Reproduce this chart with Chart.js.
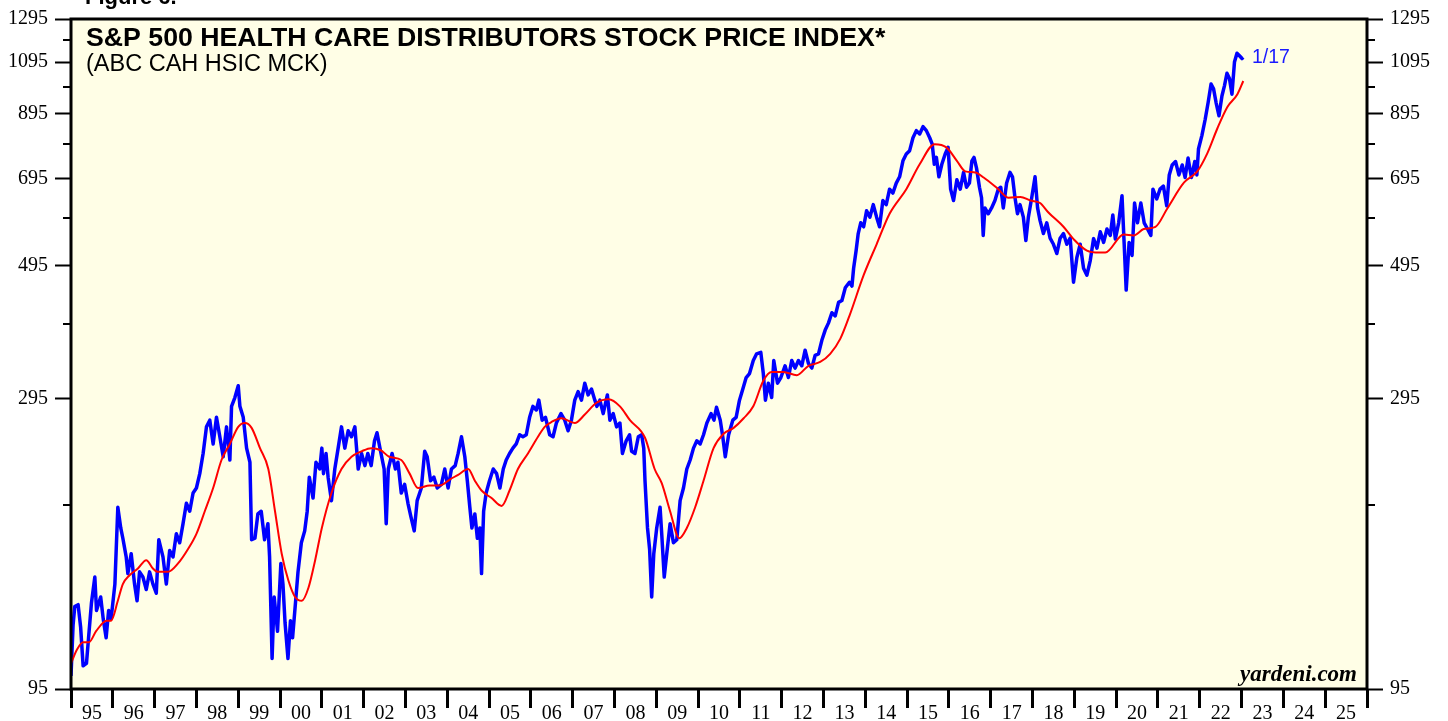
<!DOCTYPE html>
<html><head><meta charset="utf-8">
<script src="https://cdn.jsdelivr.net/npm/chart.js@4/dist/chart.umd.min.js"></script>
<style>html,body{margin:0;padding:0;background:#fff;overflow:hidden}canvas{display:block}</style>
</head><body>
<canvas id="c" width="1448" height="721"></canvas>
<script>
// ---- data ----
const yearStart = 1995, yearEnd = 2026;
const yTickValues = [95,195,295,395,495,595,695,795,895,995,1095,1195,1295];
const yLabelValues = [95,295,495,695,895,1095,1295];

const blueYears = [1995.00,1995.05,1995.09,1995.17,1995.23,1995.29,1995.37,1995.42,1995.49,1995.57,1995.61,1995.71,1995.77,1995.84,1995.90,1995.96,
1996.05,1996.12,1996.19,1996.24,1996.32,1996.36,1996.44,1996.52,1996.58,1996.64,1996.72,1996.80,1996.88,1996.96,
1997.04,1997.10,1997.20,1997.28,1997.36,1997.44,1997.52,1997.60,1997.68,1997.76,1997.84,1997.92,
1998.00,1998.08,1998.16,1998.24,1998.32,1998.40,1998.48,1998.56,1998.64,1998.72,1998.80,1998.84,1998.92,
1999.00,1999.04,1999.12,1999.20,1999.28,1999.32,1999.40,1999.47,1999.55,1999.63,1999.71,1999.75,1999.81,1999.86,1999.94,
2000.02,2000.07,2000.12,2000.19,2000.25,2000.30,2000.37,2000.43,2000.51,2000.59,2000.65,2000.70,2000.79,2000.86,2000.95,
2001.00,2001.04,2001.10,2001.15,2001.23,2001.31,2001.39,2001.47,2001.55,2001.63,2001.71,2001.79,2001.87,2001.95,
2002.03,2002.10,2002.18,2002.26,2002.32,2002.39,2002.49,2002.54,2002.59,2002.68,2002.76,2002.82,2002.90,2002.98,
2003.06,2003.13,2003.21,2003.28,2003.38,2003.46,2003.52,2003.60,2003.68,2003.76,2003.86,2003.94,
2004.02,2004.10,2004.19,2004.26,2004.34,2004.42,2004.48,2004.54,2004.59,2004.66,2004.72,2004.78,2004.82,2004.87,2004.93,
2005.01,2005.10,2005.18,2005.26,2005.34,2005.41,2005.49,2005.57,2005.65,2005.73,2005.81,2005.89,2005.97,
2006.05,2006.13,2006.19,2006.27,2006.35,2006.45,2006.53,2006.61,2006.72,2006.81,2006.89,2006.97,
2007.05,2007.13,2007.21,2007.29,2007.37,2007.45,2007.53,2007.58,2007.65,2007.73,2007.83,2007.89,2007.97,
2008.05,2008.13,2008.19,2008.28,2008.36,2008.41,2008.49,2008.57,2008.65,2008.70,2008.73,2008.79,2008.84,2008.89,2008.94,
2009.01,2009.09,2009.13,2009.19,2009.25,2009.33,2009.41,2009.49,2009.57,2009.65,2009.73,2009.81,2009.89,2009.97,
2010.05,2010.13,2010.21,2010.31,2010.38,2010.44,2010.53,2010.59,2010.65,2010.73,2010.83,2010.91,2010.99,
2011.07,2011.15,2011.23,2011.32,2011.40,2011.50,2011.56,2011.61,2011.68,2011.76,2011.81,2011.90,2011.98,
2012.08,2012.16,2012.24,2012.32,2012.40,2012.48,2012.56,2012.64,2012.72,2012.80,2012.88,2012.96,
2013.04,2013.12,2013.20,2013.28,2013.36,2013.44,2013.52,2013.62,2013.68,2013.72,2013.78,2013.83,2013.89,2013.96,
2014.03,2014.11,2014.19,2014.27,2014.34,2014.42,2014.50,2014.58,2014.66,2014.74,2014.82,2014.90,2014.98,
2015.06,2015.14,2015.22,2015.30,2015.38,2015.46,2015.54,2015.60,2015.65,2015.70,2015.76,2015.83,2015.91,2015.98,
2016.04,2016.11,2016.19,2016.27,2016.35,2016.42,2016.49,2016.55,2016.60,2016.66,2016.73,2016.78,2016.82,2016.86,2016.94,
2017.02,2017.10,2017.18,2017.24,2017.30,2017.38,2017.46,2017.52,2017.58,2017.64,2017.70,2017.78,2017.84,2017.90,2017.98,
2018.06,2018.12,2018.18,2018.26,2018.34,2018.42,2018.50,2018.58,2018.66,2018.74,2018.82,2018.90,2018.98,
2019.06,2019.14,2019.22,2019.30,2019.38,2019.46,2019.54,2019.62,2019.70,2019.78,2019.86,2019.92,2019.98,
2020.06,2020.14,2020.19,2020.24,2020.31,2020.38,2020.44,2020.51,2020.59,2020.67,2020.75,2020.83,2020.88,2020.97,
2021.05,2021.13,2021.21,2021.27,2021.34,2021.42,2021.50,2021.58,2021.65,2021.72,2021.80,2021.88,2021.93,2021.97,
2022.05,2022.13,2022.20,2022.27,2022.33,2022.39,2022.46,2022.53,2022.59,2022.65,2022.71,2022.77,2022.83,2022.89,2022.95,
2023.01,2023.04];

const blueValues = [100,122,131,132,121,104,105,116,133,147,129,136,125,116,129,125,
143,193,178,171,159,149,161,143,134,150,147,140,150,143,
138,170,159,143,163,159,174,168,181,196,190,204,
208,220,238,264,271,247,274,254,235,264,232,286,296,
310,286,274,243,230,170,171,188,190,170,181,159,107,136,119,
155,143,123,107,124,116,133,150,168,176,190,217,200,230,224,
243,220,238,217,198,224,243,264,243,260,254,264,224,238,
227,238,227,250,258,243,224,181,224,238,224,230,204,211,
196,186,176,198,208,240,235,214,217,208,211,224,
208,224,227,238,254,235,214,193,178,188,171,178,149,190,204,
214,224,220,208,224,232,238,243,247,256,254,256,274,
286,282,293,271,274,256,254,268,278,271,260,271,
293,303,293,313,299,306,293,286,293,278,299,271,278,
264,268,238,250,256,240,238,254,256,243,214,178,164,136,161,
178,193,174,147,161,181,168,170,198,208,224,232,243,250,
247,256,268,278,271,285,271,254,235,256,271,274,293,
306,320,325,342,351,353,325,293,313,296,342,313,320,
335,320,342,332,342,335,356,338,332,349,351,370,
385,396,412,407,429,432,454,464,457,490,525,561,585,576,
613,598,628,598,576,638,628,667,657,683,700,745,765,
775,815,838,827,851,838,815,795,735,755,700,735,765,785,
667,638,692,667,712,672,683,745,755,724,672,645,557,620,606,
620,638,667,672,620,683,712,700,645,606,628,598,546,598,645,
700,620,590,561,585,551,538,519,551,561,538,551,464,
511,538,490,477,505,550,530,565,542,571,557,603,549,
585,650,542,450,542,515,632,585,632,585,571,557,667,642,
667,675,625,705,733,743,705,733,698,753,698,743,705,781,
822,876,935,1005,986,935,888,959,998,1048,1027,966,1095,1133,1122,
1110,1115];

const redYears = [1995.00,1995.15,1995.29,1995.43,1995.60,1995.85,1995.96,1996.12,1996.24,1996.40,1996.60,1996.80,1996.96,
1997.08,1997.32,1997.56,1997.80,1998.00,1998.20,1998.40,1998.60,1998.80,1999.00,1999.16,1999.32,1999.52,1999.72,1999.88,
2000.04,2000.20,2000.36,2000.52,2000.68,2000.84,2001.00,2001.23,2001.47,2001.71,2001.95,2002.18,2002.41,2002.61,2002.90,
2003.10,2003.30,2003.58,2003.82,2004.06,2004.26,2004.50,2004.66,2004.82,2005.06,2005.30,2005.49,2005.69,2005.93,
2006.17,2006.33,2006.49,2006.73,2007.05,2007.29,2007.57,2007.86,2008.13,2008.37,2008.73,2008.96,2009.13,2009.33,2009.55,
2009.73,2009.93,2010.13,2010.37,2010.61,2010.85,2011.09,2011.32,2011.56,2011.76,2012.04,2012.36,2012.64,2012.92,
2013.16,2013.40,2013.62,2013.96,2014.27,2014.58,2014.98,2015.30,2015.66,2015.94,2016.19,2016.39,2016.63,2016.83,
2017.15,2017.43,2017.71,2017.95,2018.18,2018.38,2018.74,2018.98,2019.30,2019.60,2019.74,2020.18,2020.42,2020.66,2020.94,
2021.22,2021.62,2021.94,2022.18,2022.42,2022.66,2022.90,2023.04];

const redValues = [105,111,114,114,119,124,124,134,143,148,152,157,152,
150,150,155,164,174,190,208,232,247,264,268,263,243,224,190,
161,145,136,134,141,157,178,204,224,235,240,243,241,235,232,
220,208,210,210,215,219,224,214,206,200,194,206,224,238,
254,264,269,273,268,277,290,294,286,271,253,224,212,190,171,
178,193,214,243,257,263,273,286,316,327,327,323,335,340,
351,372,407,477,538,606,667,735,795,785,745,715,712,698,
670,645,647,638,632,609,576,549,525,521,521,559,557,571,576,
618,684,715,767,845,919,966,1017];

const titleText = 'S&P 500 HEALTH CARE DISTRIBUTORS STOCK PRICE INDEX*';
const subtitleText = '(ABC CAH HSIC MCK)';
const lastDateLabel = '1/17';

// ---- chart ----
const BG = 'rgb(255,254,230)';
const serif = '"Liberation Serif","Times New Roman",serif';
const sans = '"Liberation Sans",Arial,sans-serif';

const decor = {
  id: 'decor',
  beforeDraw(chart) {
    const {ctx, chartArea: a} = chart;
    ctx.save();
    ctx.fillStyle = '#fff';
    ctx.fillRect(0, 0, chart.width, chart.height);
    ctx.fillStyle = BG;
    ctx.fillRect(a.left, a.top, a.right - a.left, a.bottom - a.top);
    ctx.restore();
  },
  afterDraw(chart) {
    const {ctx, chartArea: a} = chart;
    ctx.save();
    ctx.strokeStyle = '#000';
    ctx.lineWidth = 3;
    ctx.strokeRect(a.left, a.top, a.right - a.left, a.bottom - a.top);
    ctx.lineWidth = 2;
    const ys = chart.scales.y;
    yTickValues.filter(v => !yLabelValues.includes(v)).forEach(v => {
      const p = Math.round(ys.getPixelForValue(v));
      ctx.beginPath();
      ctx.moveTo(a.left - 8, p); ctx.lineTo(a.left, p);
      ctx.moveTo(a.right, p); ctx.lineTo(a.right + 8, p);
      ctx.stroke();
    });
    ctx.fillStyle = '#000';
    ctx.textBaseline = 'alphabetic';
    ctx.textAlign = 'left';
    ctx.font = 'bold 22px ' + sans;
    ctx.fillText('Figure 6.', 85, 4);
    ctx.font = 'bold 26.7px ' + sans;
    ctx.fillText(titleText, 86, 46);
    ctx.font = '23.5px ' + sans;
    ctx.fillText(subtitleText, 86, 71);
    ctx.font = 'italic bold 23px ' + serif;
    ctx.textAlign = 'right';
    ctx.fillText('yardeni.com', 1357, 681);
    ctx.textAlign = 'left';
    ctx.fillStyle = '#1a1aff';
    ctx.font = '19.5px ' + sans;
    ctx.fillText(lastDateLabel, 1252, 63);
    ctx.restore();
  }
};

const yAxis = (pos) => ({
  type: 'logarithmic',
  position: pos,
  min: 95, max: 1295,
  afterBuildTicks: s => { s.ticks = yTickValues.map(v => ({value: v})); },
  afterFit: s => { s.width = pos === 'left' ? 71 : 81; },
  border: {display: false},
  grid: {
    drawOnChartArea: false, drawTicks: true, tickLength: 16, tickWidth: 2,
    tickColor: c => (c.tick && yLabelValues.includes(c.tick.value)) ? '#000' : 'rgba(0,0,0,0)'
  },
  ticks: {
    autoSkip: false, padding: 7, color: '#000',
    font: {family: serif, size: 20},
    callback: v => yLabelValues.includes(v) ? String(v) : ''
  }
});

new Chart(document.getElementById('c'), {
  type: 'line',
  data: {
    datasets: [
      {
        label: 'Index',
        data: blueYears.map((x, i) => ({x, y: blueValues[i]})),
        borderColor: '#0000ff', borderWidth: 3.5, pointRadius: 0, tension: 0,
        borderJoinStyle: 'round', yAxisID: 'y', order: 2
      },
      {
        label: '52-week MA',
        data: redYears.map((x, i) => ({x, y: redValues[i]})),
        borderColor: '#ff0000', borderWidth: 2, pointRadius: 0,
        cubicInterpolationMode: 'monotone', yAxisID: 'y', order: 1
      }
    ]
  },
  options: {
    responsive: false, animation: false, devicePixelRatio: 1,
    layout: {padding: {top: 18, left: 0, right: 0, bottom: 0}},
    plugins: {legend: {display: false}, tooltip: {enabled: false}, title: {display: false}},
    scales: {
      x: {
        type: 'linear', position: 'bottom', min: yearStart, max: yearEnd,
        afterBuildTicks: s => { const t = []; for (let yv = yearStart; yv <= yearEnd; yv++) t.push({value: yv}); s.ticks = t; },
        afterFit: s => { s.height = 32; },
        border: {display: false},
        grid: {drawOnChartArea: false, drawTicks: true, tickLength: 19, tickWidth: 3, tickColor: '#000'},
        ticks: {
          autoSkip: false, maxRotation: 0, minRotation: 0, padding: -6, labelOffset: 20.9, color: '#000',
          font: {family: serif, size: 20},
          callback: v => v >= yearEnd ? '' : String(v % 100).padStart(2, '0')
        }
      },
      y: yAxis('left'),
      y2: yAxis('right')
    }
  },
  plugins: [decor]
});
</script>
</body></html>
